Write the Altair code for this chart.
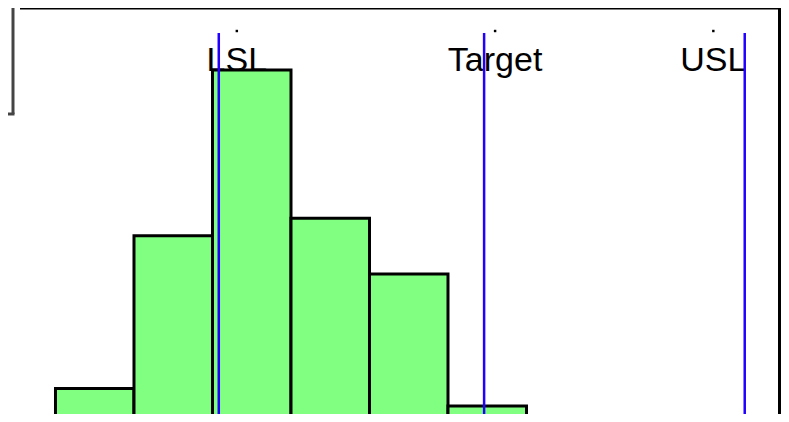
import altair as alt
import pandas as pd

# Histogram data
bin_start = [4.0, 4.5, 5.0, 5.5, 6.0, 6.5]
bin_end = [4.5, 5.0, 5.5, 6.0, 6.5, 7.0]
counts = [3.1, 12.7, 23.1, 13.8, 10.3, 2.0]

# Specification lines
spec_names = ["LSL", "Target", "USL"]
spec_values = [5.04, 6.73, 8.39]
label_x = [5.155, 6.80, 8.19]

X_DOMAIN = [3.6975, 8.621]
Y_DOMAIN = [1.502, 27]
W, H = 773, 406

bars_df = pd.DataFrame({"start": bin_start, "end": bin_end, "count": counts,
                        "base": [0] * len(counts)})
spec_df = pd.DataFrame({"name": spec_names, "value": spec_values, "lx": label_x})

xs = alt.Scale(domain=X_DOMAIN, nice=False, zero=False)
ys = alt.Scale(domain=Y_DOMAIN, nice=False, zero=False)

labels = alt.Chart(spec_df).mark_text(
    font="Liberation Sans", fontSize=34, align="center", baseline="alphabetic", color="black"
).encode(
    x=alt.X("lx:Q", scale=xs, axis=None),
    y=alt.value(63),
    text="name:N",
)

dots = alt.Chart(spec_df).mark_square(size=6, color="black", opacity=1).encode(
    x=alt.X("lx:Q", scale=xs, axis=None),
    y=alt.value(23),
)

bars = alt.Chart(bars_df).mark_rect(
    fill="#80ff80", stroke="black", strokeWidth=3, clip=True
).encode(
    x=alt.X("start:Q", scale=xs, axis=None),
    x2="end:Q",
    y=alt.Y("count:Q", scale=ys, axis=None),
    y2="base:Q",
)

lines = alt.Chart(spec_df).mark_rule(color="#2200ff", strokeWidth=2.5).encode(
    x=alt.X("value:Q", scale=xs, axis=None),
    y=alt.value(25),
    y2=alt.value(H),
)

# Frame (top and right border) and the edge of a box at left
frame_top = alt.Chart(pd.DataFrame({"a": [0]})).mark_rule(color="black", strokeWidth=2).encode(
    x=alt.value(12), x2=alt.value(W), y=alt.value(0.5)
)
frame_right = alt.Chart(pd.DataFrame({"a": [0]})).mark_rule(color="black", strokeWidth=3).encode(
    x=alt.value(W - 1.5), y=alt.value(0), y2=alt.value(H)
)
box_v = alt.Chart(pd.DataFrame({"a": [0]})).mark_rule(color="#444444", strokeWidth=3).encode(
    x=alt.value(5), y=alt.value(0), y2=alt.value(106)
)
box_h = alt.Chart(pd.DataFrame({"a": [0]})).mark_rule(color="#444444", strokeWidth=3).encode(
    x=alt.value(0), x2=alt.value(6.5), y=alt.value(106)
)

chart = alt.layer(
    labels, dots, bars, lines, frame_top, frame_right, box_v, box_h
).properties(
    width=W, height=H, autosize=alt.AutoSizeParams(type="none"), padding=0,
    background="white"
).configure_view(strokeWidth=0)

chart.save("out.html", embed_options={"renderer": "svg", "actions": False})
